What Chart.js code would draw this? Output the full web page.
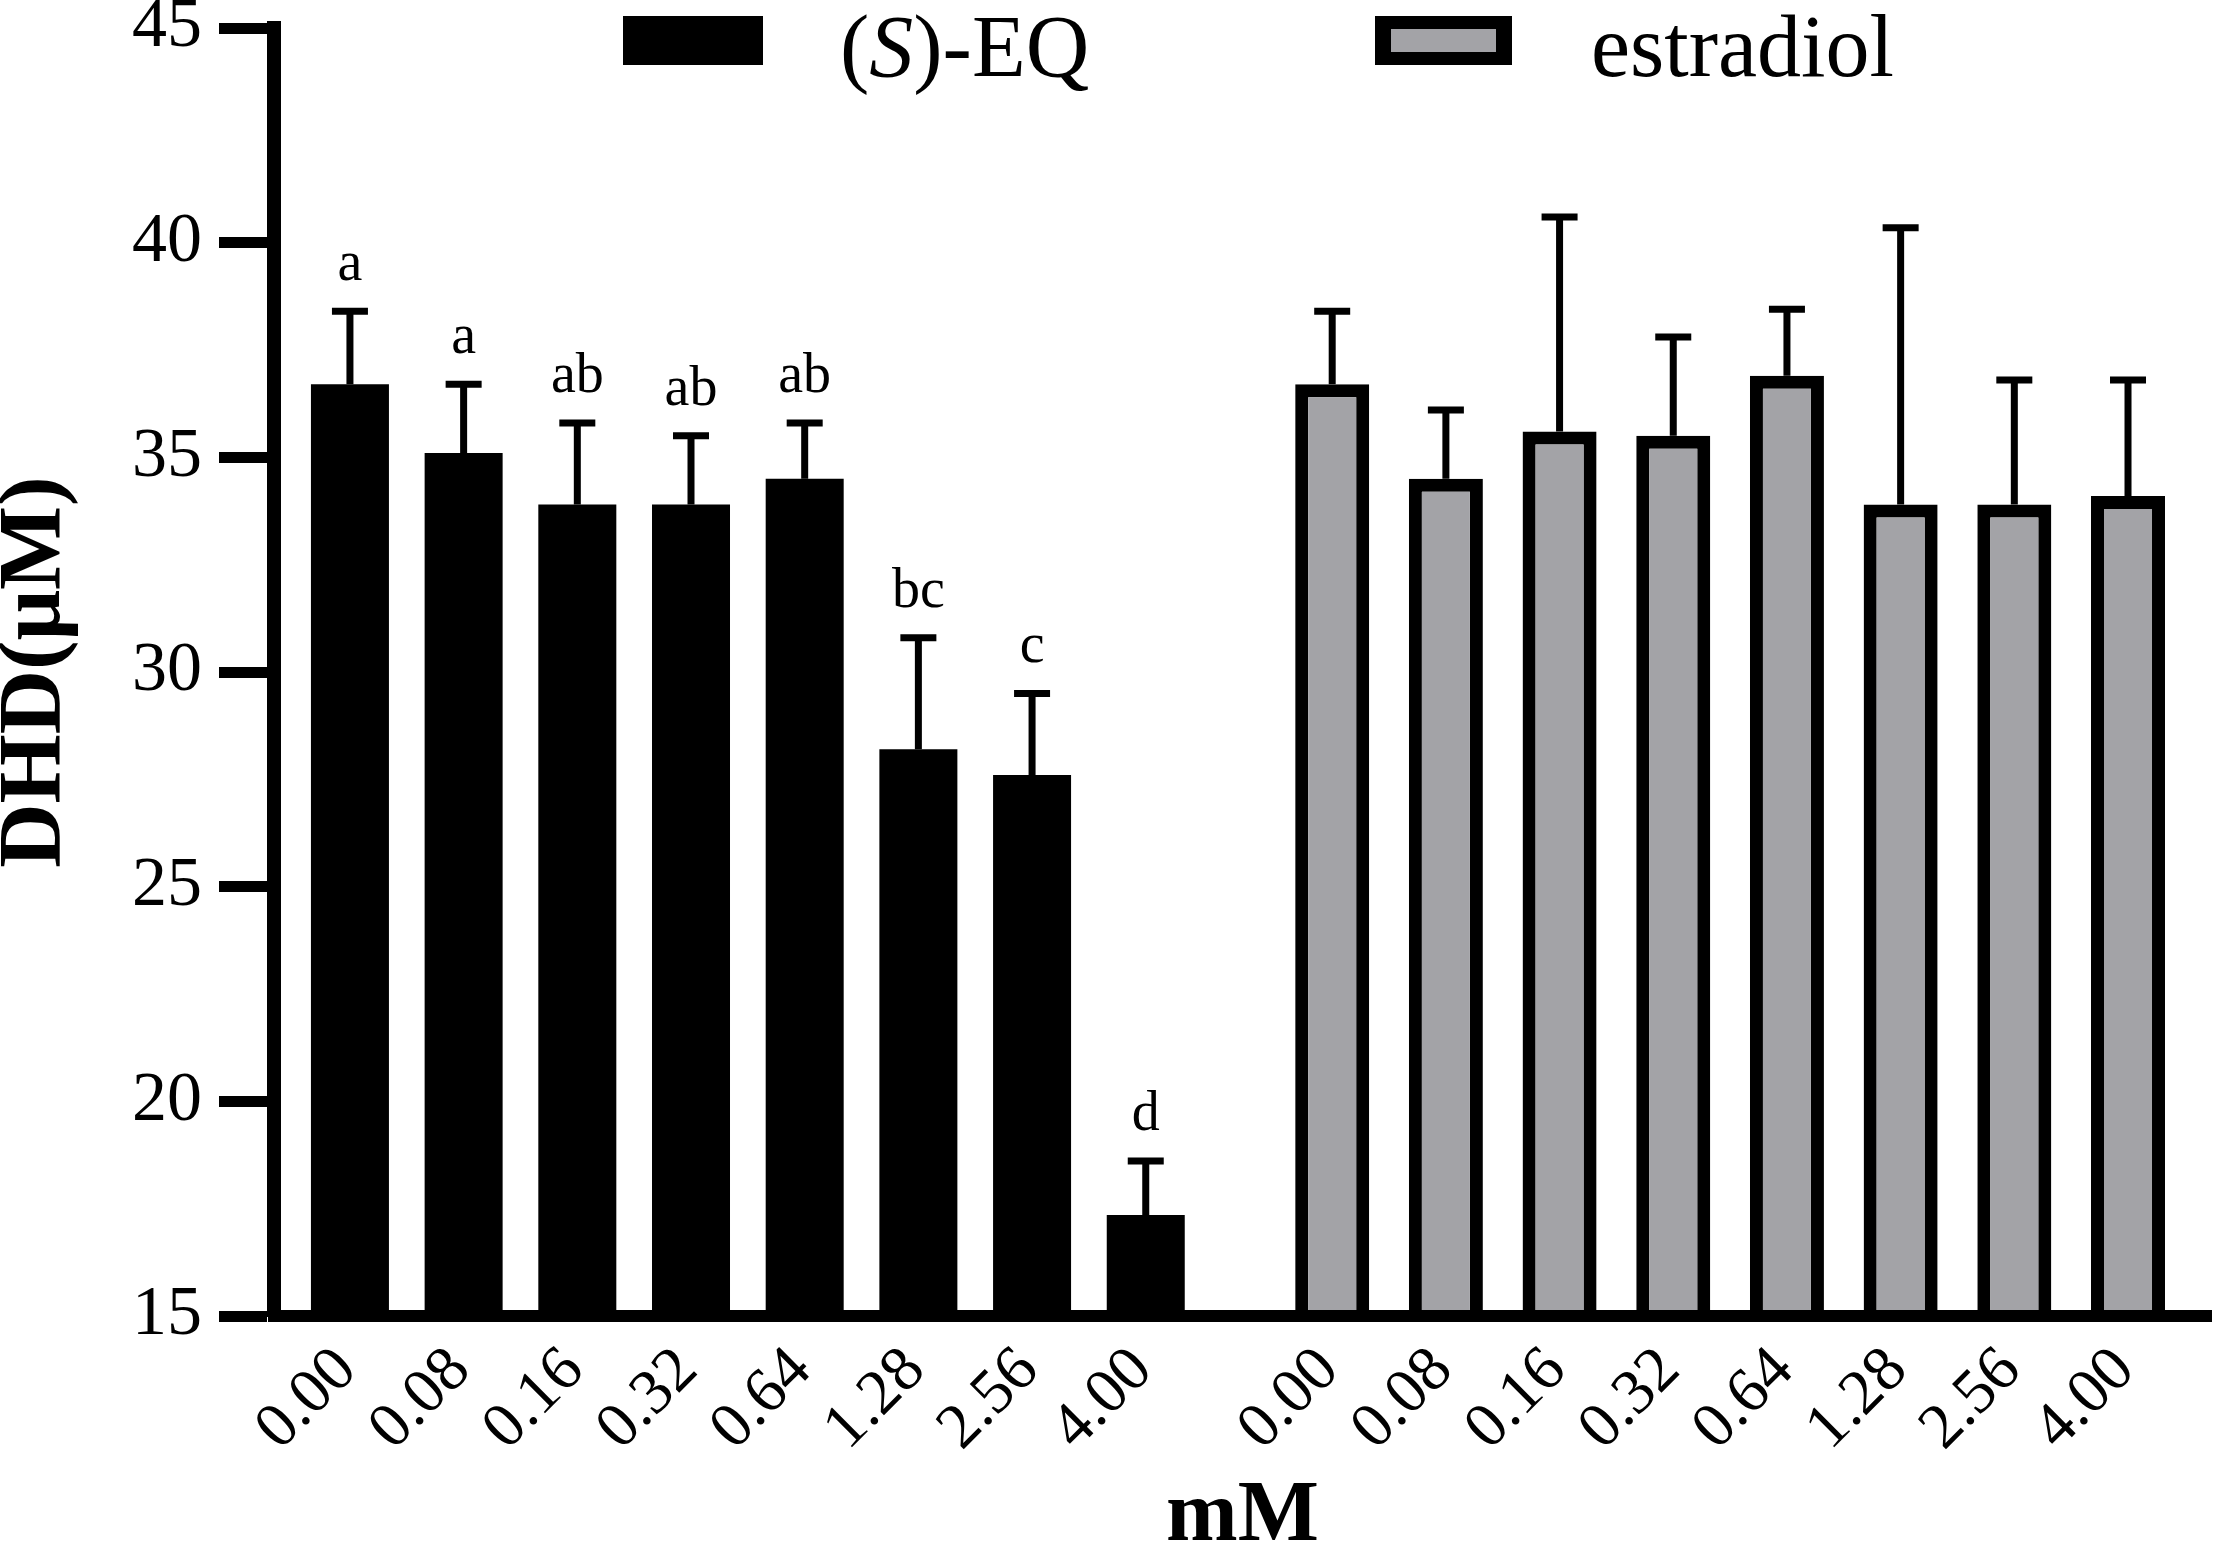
<!DOCTYPE html>
<html>
<head>
<meta charset="utf-8">
<title>DHD</title>
<script src="https://cdn.jsdelivr.net/npm/chart.js@4.4.1/dist/chart.umd.min.js"></script>
<style>
  html, body { margin: 0; padding: 0; background: #fff; }
  #wrap { width: 2217px; height: 1554px; position: relative; }
</style>
</head>
<body>
<div id="wrap"><canvas id="chart"></canvas></div>
<script>
// 数据
const doses = ['0.00', '0.08', '0.16', '0.32', '0.64', '1.28', '2.56', '4.00'];
const seriesNames = ['(S)-EQ', 'estradiol'];
const eqMeans = [36.7, 35.1, 33.9, 33.9, 34.5, 28.2, 27.6, 17.35];
const eqErrors = [1.7, 1.6, 1.9, 1.6, 1.3, 2.6, 1.9, 1.26];
const eqLetters = ['a', 'a', 'ab', 'ab', 'ab', 'bc', 'c', 'd'];
const e2Means = [36.7, 34.5, 35.6, 35.5, 36.9, 33.9, 33.9, 34.1];
const e2Errors = [1.7, 1.6, 5.0, 2.3, 1.55, 6.45, 2.9, 2.7];
const yTicks = [15, 20, 25, 30, 35, 40, 45];

// 布局
const serif = '"Liberation Serif", "Times New Roman", serif';
const groupStart = [0, 8.64];
const xPos = (g, i) => groupStart[g] + i;
const tickPositions = [...doses.map((d, i) => xPos(0, i)), ...doses.map((d, i) => xPos(1, i))];

// 误差线和字母标注
const errorBars = {
    id: 'errorBars',
    afterDatasetsDraw(chart) {
        const ctx = chart.ctx;
        const yScale = chart.scales.y;
        chart.data.datasets.forEach((ds, di) => {
            const meta = chart.getDatasetMeta(di);
            meta.data.forEach((bar, i) => {
                const top = yScale.getPixelForValue(ds.data[i].y + ds.errors[i]);
                ctx.save();
                ctx.strokeStyle = '#000';
                ctx.lineWidth = 7;
                ctx.beginPath();
                ctx.moveTo(bar.x, bar.y);
                ctx.lineTo(bar.x, top);
                ctx.moveTo(bar.x - 18, top);
                ctx.lineTo(bar.x + 18, top);
                ctx.stroke();
                if (ds.letters) {
                    ctx.fillStyle = '#000';
                    ctx.font = '56px ' + serif;
                    ctx.textAlign = 'center';
                    ctx.textBaseline = 'alphabetic';
                    ctx.fillText(ds.letters[i], bar.x, top - 31);
                }
                ctx.restore();
            });
        });
    }
};

// 图例（S 为斜体）
const legendItems = [
    { boxX: 623, boxW: 140, textX: 840 },
    { boxX: 1375, boxW: 137, textX: 1591 }
];

function drawLabel(ctx, text, x, y) {
    const m = text.match(/^\((\w)\)(.*)$/);
    const parts = m ? [['(', false], [m[1], true], [')' + m[2], false]] : [[text, false]];
    parts.forEach(([t, italic]) => {
        ctx.font = (italic ? 'italic ' : '') + '88px ' + serif;
        ctx.fillText(t, x, y);
        x += ctx.measureText(t).width;
    });
}

const customLegend = {
    id: 'customLegend',
    afterDraw(chart) {
        const ctx = chart.ctx;
        chart.data.datasets.forEach((ds, i) => {
            const item = legendItems[i];
            const bw = ds.borderWidth || 0;
            ctx.save();
            ctx.fillStyle = '#000';
            ctx.fillRect(item.boxX, 16, item.boxW, 49);
            if (bw) {
                ctx.fillStyle = ds.backgroundColor;
                ctx.fillRect(item.boxX + bw + 3, 16 + bw, item.boxW - 2 * (bw + 3), 49 - 2 * bw);
            }
            ctx.fillStyle = '#000';
            ctx.textAlign = 'left';
            ctx.textBaseline = 'alphabetic';
            drawLabel(ctx, ds.label, item.textX, 76);
            ctx.restore();
        });
    }
};

const chart = new Chart(document.getElementById('chart'), {
    type: 'bar',
    data: {
        datasets: [
            {
                label: seriesNames[0],
                data: eqMeans.map((v, i) => ({ x: xPos(0, i), y: v })),
                errors: eqErrors,
                letters: eqLetters,
                backgroundColor: '#000',
                borderWidth: 0,
                maxBarThickness: 78
            },
            {
                label: seriesNames[1],
                data: e2Means.map((v, i) => ({ x: xPos(1, i), y: v })),
                errors: e2Errors,
                backgroundColor: '#a3a3a7',
                borderColor: '#000',
                borderWidth: 13,
                maxBarThickness: 74
            }
        ]
    },
    options: {
        responsive: true,
        maintainAspectRatio: false,
        devicePixelRatio: 1,
        animation: false,
        grouped: false,
        layout: { padding: { top: 28, right: 6, left: 0, bottom: 0 } },
        plugins: {
            legend: { display: false },
            tooltip: { enabled: false }
        },
        scales: {
            x: {
                type: 'linear',
                min: -0.668,
                max: 16.37,
                offset: false,
                afterBuildTicks: (s) => { s.ticks = tickPositions.map(v => ({ value: v })); },
                afterFit: (s) => { s.height = 238; s.paddingLeft = 0; s.paddingRight = 0; },
                ticks: {
                    autoSkip: false,
                    minRotation: 45,
                    maxRotation: 45,
                    padding: 17,
                    labelOffset: -3,
                    color: '#000',
                    font: { family: serif, size: 64 },
                    callback: (v, i) => doses[i % doses.length]
                },
                grid: { drawOnChartArea: false, drawTicks: false, offset: false },
                border: { display: true, color: '#000', width: 12, z: 1 },
                title: {
                    display: true,
                    text: 'mM',
                    color: '#000',
                    padding: 0,
                    font: { family: serif, size: 86, weight: 'bold', lineHeight: 0.85 }
                }
            },
            y: {
                min: yTicks[0],
                max: yTicks[yTicks.length - 1],
                afterBuildTicks: (s) => { s.ticks = yTicks.map(v => ({ value: v })); },
                afterFit: (s) => { s.width = 274; s.paddingTop = 0; s.paddingBottom = 0; },
                ticks: {
                    padding: 17,
                    color: '#000',
                    font: { family: serif, size: 70 }
                },
                grid: {
                    drawOnChartArea: false,
                    drawTicks: true,
                    tickLength: 55,
                    tickWidth: 11,
                    tickColor: '#000',
                    color: '#000'
                },
                border: { color: '#000', width: 14, z: 1 },
                title: {
                    display: true,
                    text: 'DHD(μM)',
                    color: '#000',
                    padding: 0,
                    font: { family: serif, size: 89, weight: 'bold', lineHeight: 0.8 }
                }
            }
        }
    },
    plugins: [errorBars, customLegend]
});
</script>
</body>
</html>
